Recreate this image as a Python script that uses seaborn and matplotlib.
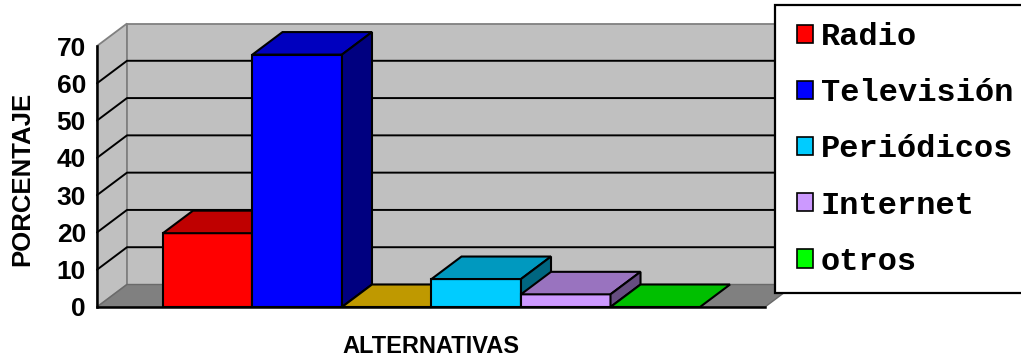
import pandas as pd
import matplotlib.pyplot as plt
from matplotlib.patches import Polygon, Rectangle
import matplotlib.colors as mcolors
import seaborn as sns

# Chart data
series = ["Radio", "Televisión", "Sin dato", "Periódicos", "Internet", "otros"]
porcentaje = [19.8, 67.7, 0.0, 7.5, 3.4, 0.0]
front_colors = ["#FF0000", "#0000FF", "#FFCC00", "#00CCFF", "#CC99FF", "#00FF00"]
legend_items = ["Radio", "Televisión", "Periódicos", "Internet", "otros"]
y_ticks = [0, 10, 20, 30, 40, 50, 60, 70]

df = pd.DataFrame({"medio": series, "porcentaje": porcentaje})

sns.set_style("white")
plt.rcParams["font.family"] = ["Liberation Sans", "DejaVu Sans"]
plt.rcParams["text.color"] = "black"
plt.rcParams["axes.labelcolor"] = "black"
plt.rcParams["xtick.color"] = "black"
plt.rcParams["ytick.color"] = "black"


def shade(color, k):
    r, g, b = mcolors.to_rgb(color)
    return (r * k, g * k, b * k)


fig = plt.figure(figsize=(10.21, 3.58), dpi=100)
ax = fig.add_axes([97 / 1021, 51 / 358, 668 / 1021, 261 / 358])

sns.barplot(
    data=df, x="medio", y="porcentaje", hue="medio",
    palette=dict(zip(series, front_colors)), saturation=1,
    width=1, edgecolor="black", linewidth=1.5, legend=False, ax=ax
)
bars = sorted(ax.patches, key=lambda p: p.get_x())

ax.set_xlim(-1.237, 6.226)
ax.set_ylim(0, 70)
xl, xr = ax.get_xlim()

# depth of the 3D effect, in data units
dx = 30 / 89.5
dy = 22.5 / (261 / 70)

# walls and floor
ax.add_patch(Polygon([(xl, 0), (xl, 70), (xl + dx, 70 + dy), (xl + dx, dy)],
                     closed=True, fc="#C0C0C0", ec="#808080", lw=1.3,
                     clip_on=False, zorder=0.5))
ax.add_patch(Rectangle((xl + dx, dy), xr - xl, 70, fc="#C0C0C0", ec="#808080",
                       lw=1.3, clip_on=False, zorder=0.5))
ax.add_patch(Polygon([(xl, 0), (xr, 0), (xr + dx, dy), (xl + dx, dy)],
                     closed=True, fc="#808080", ec="#6A6A6A", lw=1.0,
                     clip_on=False, zorder=0.6))
for y in y_ticks[1:-1]:
    ax.plot([xl, xl + dx, xr + dx], [y, y + dy, y + dy], color="black",
            lw=1.4, clip_on=False, zorder=1)

# top and side faces of every bar
for i, bar in enumerate(bars):
    bar.set_zorder(3 + i)
    x0 = bar.get_x()
    x1 = x0 + bar.get_width()
    h = bar.get_height()
    c = front_colors[i]
    ax.add_patch(Polygon([(x0, h), (x1, h), (x1 + dx, h + dy), (x0 + dx, h + dy)],
                         closed=True, fc=shade(c, 0.75), ec="black", lw=1.5,
                         clip_on=False, zorder=3.5 + i))
    if h > 0:
        ax.add_patch(Polygon([(x1, 0), (x1, h), (x1 + dx, h + dy), (x1 + dx, dy)],
                             closed=True, fc=shade(c, 0.5), ec="black", lw=1.5,
                             clip_on=False, zorder=3.5 + i))

ax.set_facecolor("none")
for s in ["top", "right"]:
    ax.spines[s].set_visible(False)
for s in ["left", "bottom"]:
    ax.spines[s].set_color("black")
    ax.spines[s].set_linewidth(1.8)
    ax.spines[s].set_zorder(20)

ax.set_yticks(y_ticks, labels=[str(t) for t in y_ticks], fontweight="bold")
ax.set_xticks([xl, xr], labels=["", ""])
ax.tick_params(axis="y", length=5, width=1.5, color="black", pad=3, labelsize=19,
               labelcolor="black")
ax.tick_params(axis="x", length=5, width=1.5, color="black")

ax.set_xlabel("ALTERNATIVAS", fontsize=17, fontweight="bold", va="center")
ax.xaxis.set_label_coords(0.5, -0.152)
ax.set_ylabel("PORCENTAJE", fontsize=18.5, fontweight="bold")
ax.yaxis.set_label_coords(-0.094, 0.49)

# legend box
fig.patches.append(Rectangle((775 / 1021, (358 - 293) / 358), 260 / 1021, 288 / 358,
                             transform=fig.transFigure, fc="white", ec="black",
                             lw=1.6, zorder=5))
handles = [Rectangle((0, 0), 1, 1, fc=front_colors[series.index(n)], ec="black", lw=1.2)
           for n in legend_items]
leg = fig.legend(handles, legend_items, loc="upper left",
                 bbox_to_anchor=(797 / 1021, (358 - 22) / 358), frameon=False,
                 prop=dict(family="Liberation Mono", weight="bold", size=23),
                 handlelength=0.5, handleheight=0.5, handletextpad=0.25,
                 labelspacing=0.82, borderpad=0, borderaxespad=0)
leg.set_zorder(6)

fig.savefig("out.png", dpi=100)
